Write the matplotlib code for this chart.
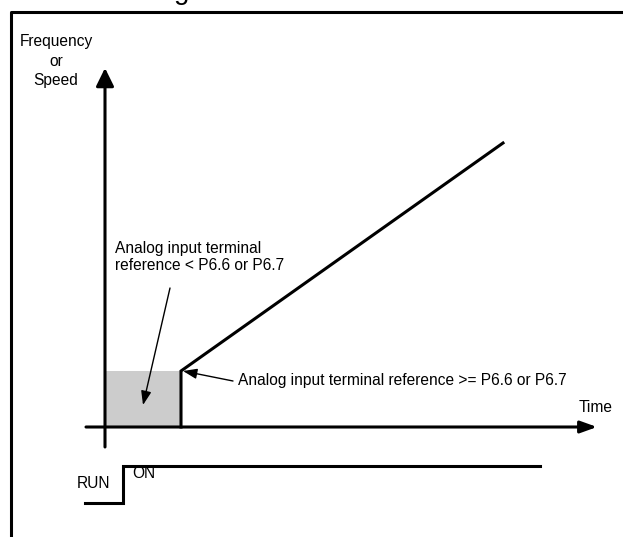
import matplotlib.pyplot as plt

plt.rcParams['font.family'] = ['Liberation Sans', 'DejaVu Sans']

# Diagram values: x = time, y = frequency/speed, origin where the axes cross
ramp_t = [76, 76, 398]
ramp_f = [0, 56, 284]
threshold_t = [0, 76]
threshold_f = 56
run_t = [-20, 18, 18, 435]
run_f = [-76, -76, -39, -39]
frame_t = [518, -94, -94]
frame_f = [415, 415, -110]

fs = 11.2
lw = 2.2

fig = plt.figure(figsize=(6.23, 5.37), dpi=100)
ax = fig.add_axes([0, 0, 1, 1])
ax.set_xlim(-105, 518)
ax.set_ylim(-110, 427)
ax.axis('off')

# outer frame (top and left only) and the clipped title glyph
ax.plot(frame_t, frame_f, color='black', lw=lw, solid_capstyle='butt')
ax.text(77, 428, 'g', fontsize=20, ha='center', va='baseline')

# shaded region below the threshold
ax.fill_between(threshold_t, 0, threshold_f, color='#cccccc', lw=0)

# axes with arrow heads
ax.annotate('', xy=(0, 359), xytext=(0, -20),
            arrowprops=dict(arrowstyle='-|>,head_length=0.55,head_width=0.27',
                            mutation_scale=20, lw=lw, color='black',
                            shrinkA=0, shrinkB=0))
ax.annotate('', xy=(492, 0), xytext=(-19, 0),
            arrowprops=dict(arrowstyle='-|>,head_length=0.5,head_width=0.18',
                            mutation_scale=20, lw=lw, color='black',
                            shrinkA=0, shrinkB=0))

# frequency ramp
ax.plot(ramp_t, ramp_f, color='black', lw=lw, solid_joinstyle='miter')

# RUN signal
ax.plot(run_t, run_f, color='black', lw=lw, solid_joinstyle='miter')

# labels
ax.text(-49, 366, 'Frequency\nor\nSpeed', fontsize=fs, ha='center', va='center',
        linespacing=1.35)
ax.text(491, 19, 'Time', fontsize=fs, ha='center', va='center')
ax.text(-11, -56, 'RUN', fontsize=fs, ha='center', va='center')
ax.text(27, -46, 'ON', fontsize=fs, ha='left', va='center')

ax.text(10, 186, 'Analog input terminal\nreference < P6.6 or P6.7', fontsize=fs,
        ha='left', va='top', linespacing=1.15)
ax.annotate('', xy=(38, 22), xytext=(65, 139),
            arrowprops=dict(arrowstyle='-|>,head_length=0.6,head_width=0.22',
                            mutation_scale=14, lw=1.0, color='black',
                            shrinkA=0, shrinkB=0))

ax.text(133, 47, 'Analog input terminal reference >= P6.6 or P6.7', fontsize=fs,
        ha='left', va='center')
ax.annotate('', xy=(78, 56), xytext=(128, 46),
            arrowprops=dict(arrowstyle='-|>,head_length=0.6,head_width=0.22',
                            mutation_scale=14, lw=1.0, color='black',
                            shrinkA=0, shrinkB=0))

fig.savefig('out.png', dpi=100)
